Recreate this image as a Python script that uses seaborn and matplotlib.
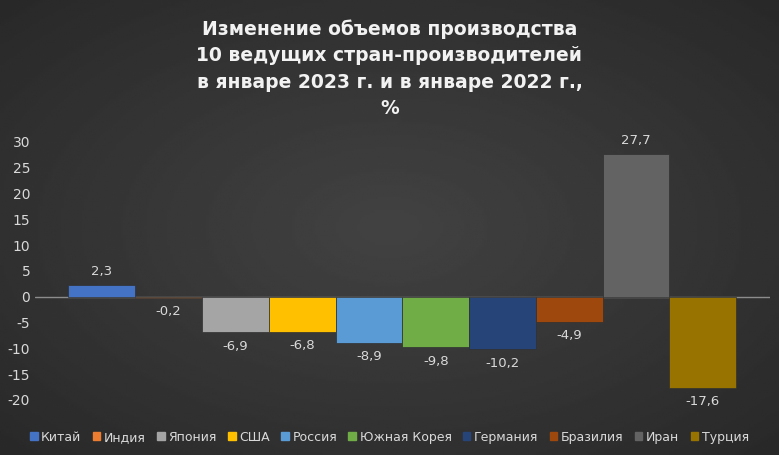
import numpy as np
import pandas as pd
import seaborn as sns
import matplotlib.pyplot as plt

countries = ['Китай', 'Индия', 'Япония', 'США', 'Россия', 'Южная Корея',
             'Германия', 'Бразилия', 'Иран', 'Турция']
change = [2.3, -0.2, -6.9, -6.8, -8.9, -9.8, -10.2, -4.9, 27.7, -17.6]
colors = ['#4472C4', '#ED7D31', '#A5A5A5', '#FFC000', '#5B9BD5', '#70AD47',
          '#264478', '#9E480E', '#636363', '#997300']

df = pd.DataFrame({'Страна': countries, 'Изменение': change})

sns.set_theme(style='white')
plt.rcParams['font.family'] = ['DejaVu Sans']
plt.rcParams['axes.unicode_minus'] = False

fig = plt.figure(figsize=(7.79, 4.55), dpi=100)

# radial dark background
yy, xx = np.mgrid[-1:1:200j, -1:1:300j]
r = np.sqrt(xx ** 2 + yy ** 2)
bg = fig.add_axes([0, 0, 1, 1])
bg.imshow(0.26 - 0.1 * np.clip(r / 1.4, 0, 1), cmap='gray', vmin=0, vmax=1,
          aspect='auto', extent=[0, 1, 0, 1])
bg.axis('off')

ax = fig.add_axes([0.045, 0.121, 0.943, 0.567])
ax.patch.set_alpha(0)
sns.barplot(data=df, x='Страна', y='Изменение', hue='Страна', palette=colors,
            saturation=1, width=1.0, legend=False, ax=ax,
            edgecolor='#303030', linewidth=0.5)

ax.axhline(0, color='#8c8c8c', lw=1, zorder=0)
for i, v in enumerate(change):
    txt = f'{v:.1f}'.replace('.', ',')
    off = 1.4 if v >= 0 else -1.4
    ax.text(i, v + off, txt, ha='center', va='bottom' if v >= 0 else 'top',
            color='#d9d9d9', fontsize=9.5)

ax.set_ylim(-20, 30)
ax.set_xlim(-1, 10)
ax.set_yticks(range(-20, 31, 5))
ax.tick_params(axis='y', colors='#d9d9d9', labelsize=10, length=0)
ax.set_xticks([])
ax.set_xlabel('')
ax.set_ylabel('')
sns.despine(ax=ax, left=True, bottom=True)

handles = [plt.Rectangle((0, 0), 1, 1, color=c) for c in colors]
fig.legend(handles, countries, loc='lower center', ncol=10, frameon=False,
           bbox_to_anchor=(0.5, 0.0), fontsize=9, labelcolor='#d9d9d9',
           handlelength=0.6, handleheight=0.6, handletextpad=0.3,
           columnspacing=0.9)

fig.text(0.5, 0.74, 'Изменение объемов производства\n10 ведущих стран-производителей\n'
         'в январе 2023 г. и в январе 2022 г.,\n%', ha='center', va='bottom',
         color='#f2f2f2', fontsize=13.5, fontweight='bold', linespacing=1.5)

fig.savefig('out.png', dpi=100)
